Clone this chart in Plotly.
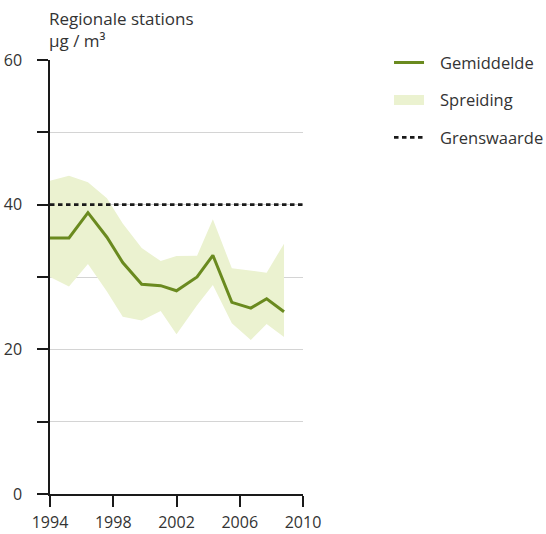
import plotly.graph_objects as go

# Data
years = [1994.0, 1995.2, 1996.4, 1997.6, 1998.6, 1999.8, 2001.0, 2002.0,
         2003.3, 2004.3, 2005.5, 2006.7, 2007.7, 2008.8]
gemiddelde = [35.4, 35.4, 38.9, 35.5, 32.0, 29.0, 28.8, 28.1, 30.0, 33.0, 26.5, 25.7, 27.0, 25.2]
spreiding_hoog = [43.3, 44.0, 43.1, 40.9, 37.4, 34.0, 32.2, 32.9, 32.95, 38.0, 31.2, 30.9, 30.6, 34.6]
spreiding_laag = [30.0, 28.7, 31.8, 28.0, 24.5, 24.0, 25.3, 22.1, 26.1, 28.9, 23.6, 21.3, 23.5, 21.7]
grens_jaren = [1994, 2010]
grenswaarde = [40, 40]

y_ticks = [0, 10, 20, 30, 40, 50, 60]
y_ticktext = ["0", "", "20", "", "40", "", "60"]
x_ticks = [1994, 1998, 2002, 2006, 2010]

LINE_GREEN = "#6a8a1f"
FILL_GREEN = "#ebf2d0"
TEXT = "#333333"
FONT = "Open Sans"
PAD = "\u2002\u2009"

fig = go.Figure()

fig.add_trace(go.Scatter(
    x=years, y=spreiding_laag, mode="lines", line=dict(width=0, color=FILL_GREEN),
    showlegend=False, hoverinfo="skip"))
fig.add_trace(go.Scatter(
    x=years, y=spreiding_hoog, mode="lines", line=dict(width=0, color=FILL_GREEN),
    fill="tonexty", fillcolor=FILL_GREEN, showlegend=False))
fig.add_trace(go.Scatter(
    x=years, y=gemiddelde, mode="lines", line=dict(width=3, color=LINE_GREEN),
    name=PAD + "Gemiddelde", legendrank=1, legendgroup="g1"))
# legend-only swatch for the band
fig.add_trace(go.Scatter(
    x=[None], y=[None], mode="lines", line=dict(width=19, color=FILL_GREEN),
    name=PAD + "Spreiding", legendrank=2, legendgroup="g2"))
fig.add_trace(go.Scatter(
    x=grens_jaren, y=grenswaarde, mode="lines",
    line=dict(width=2.6, color="#1a1a1a", dash="4.5px,3.5px"),
    name=PAD + "Grenswaarde", legendrank=3, legendgroup="g3"))

fig.update_layout(
    width=546, height=534,
    margin=dict(l=50, r=243, t=60, b=40, autoexpand=False),
    paper_bgcolor="white", plot_bgcolor="white",
    font=dict(family=FONT, size=15, color=TEXT),
    legend=dict(x=1.34, y=1.034, xanchor="left", yanchor="top",
                traceorder="grouped",
                font=dict(family=FONT, size=16.5, color=TEXT),
                tracegroupgap=13, itemwidth=30, bgcolor="rgba(0,0,0,0)"),
    annotations=[dict(
        text="Regionale stations<br>µg / m³", xref="paper", yref="paper",
        x=0, y=1.0, xanchor="left", yanchor="bottom", align="left",
        showarrow=False, yshift=6, xshift=-3,
        font=dict(family=FONT, size=17, color=TEXT))],
)

fig.update_xaxes(
    range=[1994, 2010], tickvals=x_ticks, showgrid=False, zeroline=False,
    automargin=False,
    showline=True, linecolor="#1a1a1a", linewidth=1.5,
    ticks="outside", ticklen=11, tickwidth=1.5, tickcolor="#1a1a1a",
    ticklabelstandoff=2, tickfont=dict(size=16, color=TEXT))
fig.update_yaxes(
    range=[0, 60], tickvals=y_ticks, ticktext=y_ticktext,
    showgrid=True, gridcolor="#d4d4d4", gridwidth=1, zeroline=False,
    automargin=False,
    showline=True, linecolor="#1a1a1a", linewidth=1.5,
    ticks="outside", ticklen=11, tickwidth=1.5, tickcolor="#1a1a1a",
    ticklabelstandoff=12, tickfont=dict(size=16, color=TEXT))

fig.write_html("out.html")
